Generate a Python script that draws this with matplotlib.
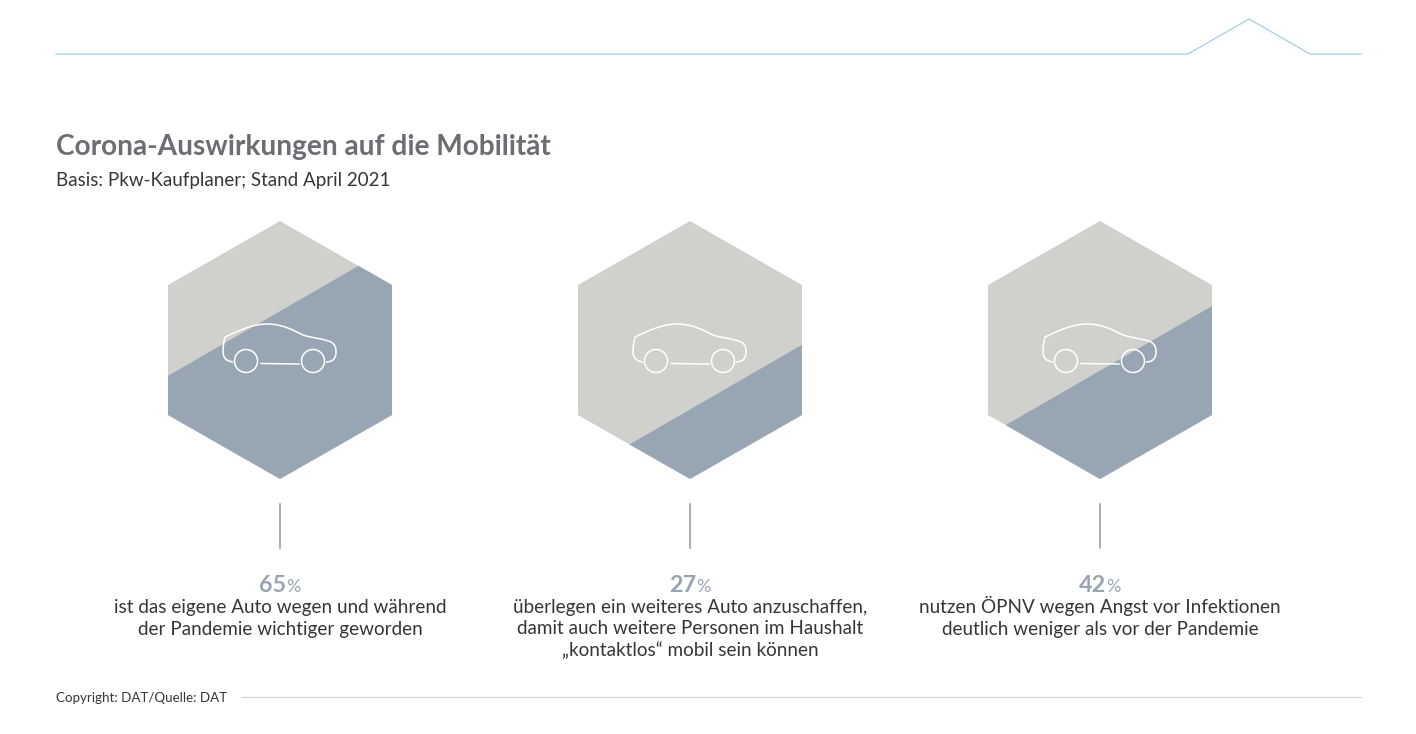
import matplotlib
matplotlib.use('Agg')
import matplotlib.pyplot as plt
from matplotlib.patches import Polygon, Circle, PathPatch
from matplotlib.path import Path
import numpy as np

plt.rcParams['font.family'] = ['Lato', 'DejaVu Sans']

# data
values = [65, 27, 42]
captions = [
    'ist das eigene Auto wegen und während\nder Pandemie wichtiger geworden',
    'überlegen ein weiteres Auto anzuschaffen,\ndamit auch weitere Personen im Haushalt\n„kontaktlos“ mobil sein können',
    'nutzen ÖPNV wegen Angst vor Infektionen\ndeutlich weniger als vor der Pandemie',
]
title = 'Corona-Auswirkungen auf die Mobilität'
subtitle = 'Basis: Pkw-Kaufplaner; Stand April 2021'
source = 'Copyright: DAT/Quelle: DAT'

GREY = '#d0d1cc'
BLUE = '#98a5b3'
TEXT = '#34363a'
TITLE = '#6b6e73'

fig = plt.figure(figsize=(14.16, 7.34), dpi=100)
ax = fig.add_axes([0, 0, 1, 1])
ax.set_xlim(0, 1416)
ax.set_ylim(734, 0)
ax.axis('off')

# top rule with the little peak
ax.plot([56, 1188, 1249, 1310, 1361], [54, 54, 19, 54, 54], color='#a9cfe3', lw=0.95)

ax.text(56, 155, title, fontsize=20.2, fontweight='bold', color=TITLE, va='baseline', ha='left')
ax.text(56, 186, subtitle, fontsize=13.5, color=TEXT, va='baseline', ha='left')

centers = [280, 690, 1100]
cy = 350
R = 129
apo = 112
hex_off = [(0, -R), (apo, -65), (apo, 65), (0, R), (-apo, 65), (-apo, -65)]
ang = np.radians(30)
nx, ny = np.sin(ang), np.cos(ang)  # normal pointing to the lower right edge


def car(cx):
    verts = [(-47, 12),
             (-54, 11), (-57, 8), (-57, 1),
             (-57, -4), (-56, -9), (-55, -13),
             (-42, -19), (-28, -26), (-13, -26),
             (2, -26), (13, -20), (23, -15),
             (32, -12), (45, -11), (51, -8),
             (56, -5), (56, -1), (56, 2),
             (56, 8), (53, 12), (46, 12)]
    codes = [Path.MOVETO] + [Path.CURVE4] * 21
    ax.add_patch(PathPatch(Path([(cx + x, cy + y) for x, y in verts], codes),
                           fc='none', ec='white', lw=1.1, zorder=4))
    for wx in (-34, 33):
        ax.add_patch(Circle((cx + wx, cy + 11), 11.5, fc='none', ec='white', lw=1.1, zorder=4))
    ax.plot([cx - 19, cx + 19], [cy + 13.5, cy + 14], color='white', lw=1.1, zorder=4)


for cx, val, cap in zip(centers, values, captions):
    pts = [(cx + dx, cy + dy) for dx, dy in hex_off]
    hexagon = Polygon(pts, fc=GREY, ec='none', zorder=1)
    ax.add_patch(hexagon)

    # level line runs parallel to the hexagon edge, height is proportional to the value
    t = apo - val / 100 * 2 * apo
    px, py = cx + t * nx, cy + t * ny
    dx, dy = ny, -nx
    L = 400
    fill = Polygon([(px - L * dx, py - L * dy), (px + L * dx, py + L * dy),
                    (px + L * dx + L * nx, py + L * dy + L * ny),
                    (px - L * dx + L * nx, py - L * dy + L * ny)],
                   fc=BLUE, ec='none', zorder=2)
    ax.add_patch(fill)
    fill.set_clip_path(hexagon)

    car(cx)
    ax.plot([cx, cx], [504, 548], color='#8c9aa8', lw=1.1)

    # big number and smaller % sign centred as a pair
    num = ax.text(cx, 592.5, str(val), fontsize=16.8, fontweight='bold', color=BLUE, va='baseline', ha='right')
    pct = ax.text(cx, 592.5, '%', fontsize=13, color=BLUE, va='baseline', ha='left')
    r = fig.canvas.get_renderer()
    wn = num.get_window_extent(r).width
    wp = pct.get_window_extent(r).width
    num.set_x(cx + (wn - wp) / 2)
    pct.set_x(cx + (wn - wp) / 2)

    for i, line in enumerate(cap.split('\n')):
        ax.text(cx, 613.5 + i * 21, line, fontsize=13.6, color=TEXT, va='baseline', ha='center')

ax.text(56, 702.5, source, fontsize=9.6, color=TEXT, va='baseline', ha='left')
ax.plot([242, 1361], [697, 697], color='#d3d5d6', lw=0.95)

fig.savefig('out.png', dpi=100, facecolor='white')
